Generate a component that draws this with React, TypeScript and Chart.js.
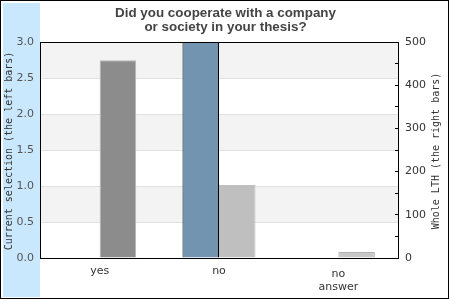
import React, { useEffect, useRef } from "react";
import { Chart, registerables } from "chart.js";

Chart.register(...registerables);

const categories: (string | string[])[] = ["yes", "no", ["no", "answer"]];
const currentSelection = [0, 3, 0];
const wholeLTH = [458, 169, 14];
const lthColors = ["#8c8c8c", "#bfbfbf", "#c8c8c8"];
const lthBorders = ["#b6b6b6", "#bfbfbf", "#b0b0b0"];
const titleLines = ["Did you cooperate with a company", "or society in your thesis?"];
const leftTitle = "Current selection (the left bars)";
const rightTitle = "Whole LTH (the right bars)";

const decorPlugin = {
  id: "decor",
  beforeDraw(chart: any) {
    const ctx = chart.ctx as CanvasRenderingContext2D;
    const { left, right } = chart.chartArea;
    const y = chart.scales.y;
    ctx.save();
    ctx.fillStyle = "#ffffff";
    ctx.fillRect(0, 0, 450, 300);
    ctx.fillStyle = "#c9e7fd";
    ctx.fillRect(3, 3, 37, 294);
    ctx.strokeStyle = "#000";
    ctx.lineWidth = 1;
    ctx.strokeRect(0.5, 0.5, 448, 298);
    // alternating bands
    ctx.fillStyle = "#f3f3f3";
    for (let v = 0.5; v < 3; v += 1) {
      const y1 = y.getPixelForValue(v + 0.5);
      const y2 = y.getPixelForValue(v);
      ctx.fillRect(left, y1, right - left, y2 - y1);
    }
    // title
    ctx.fillStyle = "#444";
    ctx.font = 'bold 13.4px "Liberation Sans"';
    ctx.textAlign = "center";
    ctx.textBaseline = "alphabetic";
    ctx.fillText(titleLines[0], 225.5, 17);
    ctx.fillText(titleLines[1], 225.5, 31);
    // axis titles
    ctx.fillStyle = "#333";
    ctx.font = '10px "DejaVu Sans Mono"';
    ctx.textBaseline = "middle";
    ctx.save();
    ctx.translate(9.5, 151);
    ctx.rotate(-Math.PI / 2);
    ctx.fillText(leftTitle, 0, 0);
    ctx.restore();
    ctx.save();
    ctx.translate(436.5, 151);
    ctx.rotate(-Math.PI / 2);
    ctx.fillText(rightTitle, 0, 0);
    ctx.restore();
    ctx.restore();
  },
  afterDraw(chart: any) {
    const ctx = chart.ctx as CanvasRenderingContext2D;
    const { left, right, top, bottom } = chart.chartArea;
    ctx.save();
    ctx.strokeStyle = "#000";
    ctx.lineWidth = 1;
    ctx.strokeRect(left + 0.5, top + 0.5, right - left, bottom - top);
    // x labels
    const xs = chart.scales.x;
    ctx.fillStyle = "#333";
    ctx.font = '11px "DejaVu Sans"';
    ctx.textAlign = "center";
    ctx.textBaseline = "alphabetic";
    categories.forEach((c, i) => {
      const x = xs.getPixelForValue(i);
      if (Array.isArray(c)) {
        c.forEach((line, j) => ctx.fillText(line, x, bottom + 19 + j * 13));
      } else {
        ctx.fillText(c, x, bottom + 16);
      }
    });
    ctx.restore();
  },
};

export default function App() {
  const ref = useRef<HTMLCanvasElement>(null);
  useEffect(() => {
    if (!ref.current) return;
    const chart = new Chart(ref.current, {
      type: "bar",
      data: {
        labels: categories.map((c) => (Array.isArray(c) ? c.join(" ") : c)),
        datasets: [
          {
            label: "Current selection",
            data: currentSelection,
            yAxisID: "y",
            backgroundColor: "#7294b0",
            borderColor: "#000",
            borderWidth: 1,
            categoryPercentage: 0.612,
            barPercentage: 1,
          },
          {
            label: "Whole LTH",
            data: wholeLTH,
            yAxisID: "y2",
            backgroundColor: lthColors,
            borderColor: lthBorders,
            borderWidth: 1,
            categoryPercentage: 0.612,
            barPercentage: 1,
          },
        ],
      },
      options: {
        responsive: false,
        animation: false,
        layout: { padding: { top: 42, left: 0, right: 0, bottom: 0 } },
        plugins: { legend: { display: false }, tooltip: { enabled: false }, title: { display: false } },
        scales: {
          x: {
            type: "category",
            offset: true,
            grid: { display: false },
            border: { display: false },
            ticks: { display: false },
            afterFit: (s: any) => {
              s.height = 42;
            },
          },
          y: {
            position: "left",
            min: 0,
            max: 3,
            ticks: {
              stepSize: 0.5,
              color: "#555",
              font: { family: "DejaVu Sans", size: 11 },
              padding: 6,
              callback: (v: any) => Number(v).toFixed(1),
            },
            grid: { color: "#e0e0e0", drawTicks: false },
            border: { display: true, color: "#000" },
            afterFit: (s: any) => {
              s.width = 40;
            },
          },
          y2: {
            position: "right",
            min: 0,
            max: 500,
            ticks: {
              stepSize: 50,
              color: "#333",
              font: { family: "DejaVu Sans", size: 11 },
              padding: 10,
              callback: (v: any) => (Number(v) % 100 === 0 ? String(v) : ""),
            },
            grid: { drawOnChartArea: false, color: "#000", tickLength: -3 },
            border: { display: true, color: "#000" },
            afterFit: (s: any) => {
              s.width = 52;
            },
          },
        },
      },
      plugins: [decorPlugin],
    });
    return () => chart.destroy();
  }, []);
  return (
    <div style={{ position: "fixed", left: 0, top: 0, width: 450, height: 300 }}>
      <canvas ref={ref} width={450} height={300} style={{ width: 450, height: 300, display: "block" }} />
    </div>
  );
}
